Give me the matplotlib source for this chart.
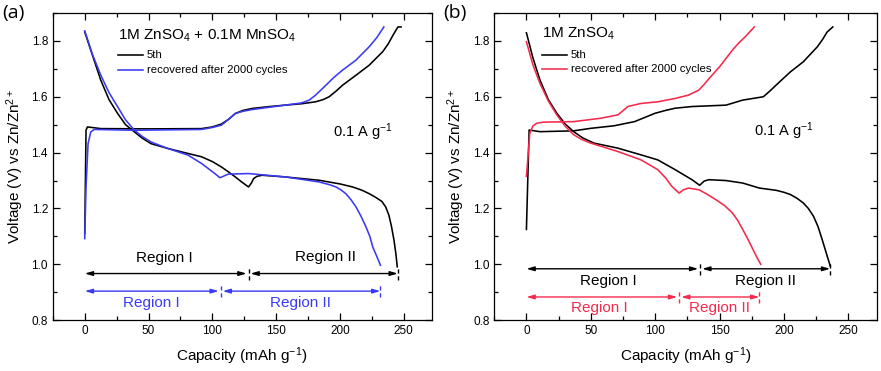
import matplotlib
matplotlib.use("Agg")
import matplotlib.pyplot as plt
from matplotlib.ticker import MultipleLocator

plt.rcParams['font.family'] = ['Liberation Sans', 'DejaVu Sans']
plt.rcParams['mathtext.default'] = 'regular'

BLUE = '#3a3af5'
RED = '#f52a4c'

# ---- panel (a): 1M ZnSO4 + 0.1M MnSO4 ----
a_blk_chg_x = [0, 1, 2.1, 12.6, 50, 91.6, 100, 107, 113, 118, 124, 131, 145, 157, 170, 181, 187, 191.6, 197, 202, 212.6, 223, 233.7, 238, 241.6, 245.5, 248]
a_blk_chg_y = [1.11, 1.48, 1.492, 1.486, 1.485, 1.486, 1.492, 1.502, 1.52, 1.54, 1.551, 1.558, 1.565, 1.57, 1.575, 1.582, 1.59, 1.60, 1.62, 1.641, 1.677, 1.713, 1.762, 1.79, 1.82, 1.85, 1.85]
a_blu_chg_x = [0, 1, 2.6, 4.7, 7.4, 39, 91.6, 100, 107, 113, 118, 124, 131, 157, 170, 176, 181, 189, 195, 202, 212.6, 223, 229, 234.5]
a_blu_chg_y = [1.092, 1.277, 1.432, 1.474, 1.483, 1.48, 1.483, 1.49, 1.498, 1.52, 1.54, 1.548, 1.554, 1.57, 1.578, 1.588, 1.606, 1.641, 1.668, 1.695, 1.731, 1.779, 1.812, 1.85]
a_blk_dis_x = [0, 4.7, 12.6, 19, 25.8, 32, 39, 45, 52, 65, 80, 91.6, 100, 107, 113, 118, 123, 128.4, 130.5, 132.4, 135, 139, 157, 183.7, 200, 210, 217, 223, 228, 233, 236, 238.5, 240.5, 242.5, 244, 245]
a_blk_dis_y = [1.832, 1.767, 1.659, 1.59, 1.54, 1.5, 1.474, 1.452, 1.432, 1.415, 1.398, 1.385, 1.368, 1.349, 1.33, 1.313, 1.295, 1.277, 1.29, 1.307, 1.315, 1.319, 1.313, 1.301, 1.288, 1.277, 1.266, 1.253, 1.24, 1.225, 1.205, 1.175, 1.135, 1.085, 1.035, 0.991]
a_blu_dis_x = [0, 6, 12.6, 19, 25.8, 32, 39, 45, 52, 65, 81, 91.6, 102, 106, 109, 112.6, 128.4, 157, 170.5, 183.7, 192, 197, 201, 204.7, 208.5, 212.6, 216.5, 220.5, 223.5, 225.8, 229, 231.8]
a_blu_dis_y = [1.836, 1.752, 1.677, 1.615, 1.564, 1.517, 1.48, 1.458, 1.438, 1.415, 1.391, 1.361, 1.325, 1.31, 1.316, 1.323, 1.325, 1.313, 1.304, 1.295, 1.285, 1.277, 1.266, 1.253, 1.233, 1.206, 1.173, 1.134, 1.1, 1.062, 1.028, 0.997]

# ---- panel (b): 1M ZnSO4 ----
b_blk_chg_x = [0, 2.1, 10.5, 36.7, 50, 68, 84, 92, 100, 108, 115.5, 128.6, 155, 168, 184, 189, 194, 205, 215, 226, 230, 233.6, 238]
b_blk_chg_y = [1.125, 1.481, 1.475, 1.478, 1.487, 1.496, 1.511, 1.526, 1.541, 1.551, 1.559, 1.565, 1.57, 1.588, 1.60, 1.62, 1.642, 1.689, 1.725, 1.779, 1.805, 1.832, 1.85]
b_red_chg_x = [0, 2.6, 5, 7.9, 13, 36.7, 57.7, 71, 75, 78.7, 89, 102, 115.5, 126, 134, 138, 142, 150, 160, 165, 170, 177]
b_red_chg_y = [1.315, 1.469, 1.495, 1.505, 1.509, 1.511, 1.523, 1.535, 1.55, 1.565, 1.576, 1.582, 1.594, 1.606, 1.624, 1.644, 1.666, 1.707, 1.767, 1.793, 1.815, 1.85]
b_blk_dis_x = [0, 5, 10.5, 17, 23.6, 30, 36.7, 44, 52.5, 71, 89, 102, 115.5, 128.6, 134.6, 138, 141.7, 155, 168, 181, 194, 200, 205, 210, 215, 219, 223, 226.5, 229.7, 233.6, 236]
b_blk_dis_y = [1.829, 1.74, 1.66, 1.59, 1.541, 1.503, 1.475, 1.452, 1.434, 1.416, 1.392, 1.374, 1.339, 1.303, 1.283, 1.298, 1.303, 1.30, 1.291, 1.273, 1.265, 1.258, 1.25, 1.237, 1.22, 1.2, 1.172, 1.135, 1.089, 1.03, 0.994]
b_red_dis_x = [0, 5, 10.5, 17, 23.6, 30, 36.7, 43, 50, 71, 89, 102, 108, 113, 118.6, 122, 126, 134, 140, 147, 154, 160, 164, 168, 172, 176, 179, 182]
b_red_dis_y = [1.797, 1.715, 1.648, 1.585, 1.535, 1.495, 1.464, 1.447, 1.434, 1.404, 1.374, 1.339, 1.31, 1.279, 1.255, 1.267, 1.273, 1.267, 1.252, 1.232, 1.21, 1.184, 1.158, 1.125, 1.09, 1.053, 1.025, 1.0]

# region arrows: (start, divider, end, y)
a_regions_blk = [0, 128.4, 245.5, 0.967]
a_regions_col = [0, 106.6, 231.8, 0.904]
b_regions_blk = [0, 135, 236, 0.984]
b_regions_col = [0, 118.6, 181, 0.883]

fig = plt.figure(figsize=(8.81, 3.71), dpi=100)
axa = fig.add_axes([0.060, 0.137, 0.430, 0.828])
axb = fig.add_axes([0.561, 0.137, 0.434, 0.828])


def region_arrows(ax, reg, color, dy=0.022):
    x0, xd, x1, y = reg
    kw = dict(arrowstyle='<|-|>,head_length=0.45,head_width=0.13', color=color, lw=1.0,
              shrinkA=0, shrinkB=0)
    ax.annotate('', xy=(x0, y), xytext=(xd - 1.5, y), arrowprops=kw)
    ax.annotate('', xy=(xd + 1.5, y), xytext=(x1, y), arrowprops=kw)
    ax.plot([xd, xd], [y - dy, y + dy], color=color, lw=1.0, dashes=(3, 2))
    ax.plot([x1, x1], [y - dy, y + dy], color=color, lw=1.0, dashes=(3, 2))


def style(ax):
    ax.set_xlim(-25, 272)
    ax.set_ylim(0.8, 1.9)
    ax.xaxis.set_major_locator(MultipleLocator(50))
    ax.xaxis.set_minor_locator(MultipleLocator(25))
    ax.yaxis.set_major_locator(MultipleLocator(0.2))
    ax.yaxis.set_minor_locator(MultipleLocator(0.1))
    ax.yaxis.set_major_formatter(matplotlib.ticker.FormatStrFormatter('%.1f'))
    ax.tick_params(which='both', direction='in', top=True, right=True, labelsize=8.5, width=0.9)
    ax.tick_params(which='major', length=5)
    ax.tick_params(which='minor', length=3)
    for s in ax.spines.values():
        s.set_linewidth(0.9)
    ax.set_xlabel('Capacity (mAh g$^{-1}$)', fontsize=11, labelpad=6)
    ax.set_ylabel('Voltage (V) vs Zn/Zn$^{2+}$', fontsize=11, labelpad=4)


LW = 1.15

# panel a
style(axa)
axa.plot(a_blk_chg_x, a_blk_chg_y, color='black', lw=LW)
axa.plot(a_blk_dis_x, a_blk_dis_y, color='black', lw=LW)
axa.plot(a_blu_chg_x, a_blu_chg_y, color=BLUE, lw=LW)
axa.plot(a_blu_dis_x, a_blu_dis_y, color=BLUE, lw=LW)
region_arrows(axa, a_regions_blk, 'black')
region_arrows(axa, a_regions_col, BLUE)
axa.text(62.6, 1.021, 'Region I', ha='center', va='center', fontsize=11)
axa.text(188.4, 1.027, 'Region II', ha='center', va='center', fontsize=11)
axa.text(52, 0.86, 'Region I', ha='center', va='center', fontsize=11, color=BLUE)
axa.text(169, 0.86, 'Region II', ha='center', va='center', fontsize=11, color=BLUE)
axa.text(218, 1.474, '0.1 A g$^{-1}$', ha='center', va='center', fontsize=10.5)
axa.text(25.8, 1.82, '1M ZnSO$_4$ + 0.1M MnSO$_4$', ha='left', va='center', fontsize=11)
axa.plot([25.8, 45.5], [1.751, 1.751], color='black', lw=LW)
axa.plot([25.8, 45.5], [1.697, 1.697], color=BLUE, lw=LW)
axa.text(48.7, 1.751, '5th', ha='left', va='center', fontsize=8.2)
axa.text(48.7, 1.697, 'recovered after 2000 cycles', ha='left', va='center', fontsize=8.2)

# panel b
style(axb)
axb.plot(b_blk_chg_x, b_blk_chg_y, color='black', lw=LW)
axb.plot(b_blk_dis_x, b_blk_dis_y, color='black', lw=LW)
axb.plot(b_red_chg_x, b_red_chg_y, color=RED, lw=LW)
axb.plot(b_red_dis_x, b_red_dis_y, color=RED, lw=LW)
region_arrows(axb, b_regions_blk, 'black')
region_arrows(axb, b_regions_col, RED)
axb.text(64, 0.94, 'Region I', ha='center', va='center', fontsize=11)
axb.text(186, 0.94, 'Region II', ha='center', va='center', fontsize=11)
axb.text(57, 0.845, 'Region I', ha='center', va='center', fontsize=11, color=RED)
axb.text(150, 0.845, 'Region II', ha='center', va='center', fontsize=11, color=RED)
axb.text(200, 1.475, '0.1 A g$^{-1}$', ha='center', va='center', fontsize=10.5)
axb.text(12, 1.826, '1M ZnSO$_4$', ha='left', va='center', fontsize=11)
axb.plot([11.8, 31.5], [1.751, 1.751], color='black', lw=LW)
axb.plot([11.8, 31.5], [1.698, 1.698], color=RED, lw=LW)
axb.text(34.6, 1.751, '5th', ha='left', va='center', fontsize=8.2)
axb.text(34.6, 1.698, 'recovered after 2000 cycles', ha='left', va='center', fontsize=8.2)

fig.text(0.003, 0.99, '(a)', ha='left', va='top', fontsize=14, family='Open Sans')
fig.text(0.503, 0.99, '(b)', ha='left', va='top', fontsize=14, family='Open Sans')

fig.savefig('out.png', dpi=100)
